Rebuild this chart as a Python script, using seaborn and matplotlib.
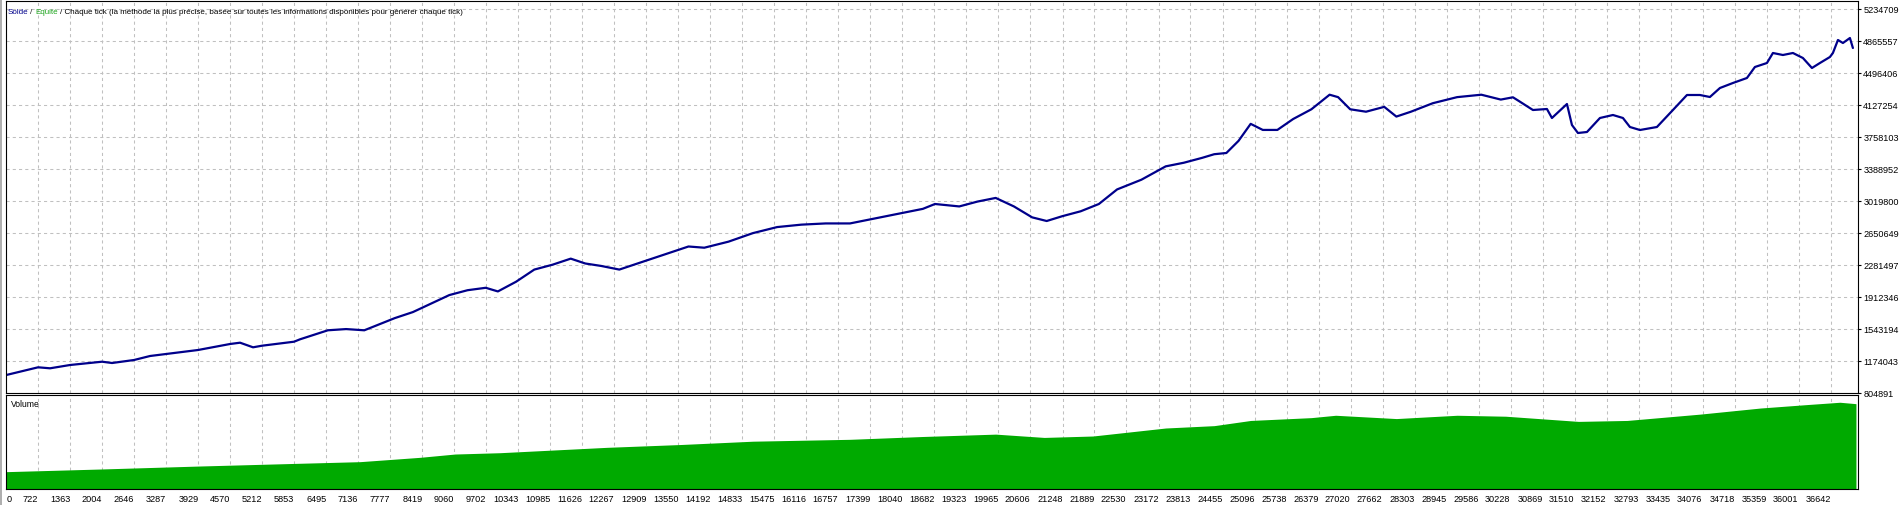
import matplotlib
matplotlib.use("Agg")
import matplotlib.pyplot as plt
import seaborn as sns
import pandas as pd
from matplotlib.lines import Line2D

# balance curve (trade number -> balance)
trades = [80, 717, 957, 1358, 2000, 2199, 2640, 2961, 3282, 3923, 4564, 4765, 5025, 5206,
          5847, 5967, 6525, 6890, 7255, 7499, 7864, 8229, 8594, 8959, 9324, 9689, 9932,
          10297, 10662, 11027, 11392, 11684, 12001, 12366, 12730, 13095, 13460, 13752,
          14069, 14555, 15042, 15529, 16015, 16502, 16989, 17476, 17962, 18449, 18692,
          19179, 19544, 19909, 20274, 20639, 20931, 21247, 21612, 21977, 22342, 22829,
          23316, 23681, 24046, 24289, 24532, 24776, 25019, 25262, 25554, 25871, 26236,
          26601, 26771, 27014, 27331, 27696, 27939, 28231, 28669, 29156, 29642, 30032,
          30276, 30416, 30676, 30957, 31057, 31358, 31458, 31578, 31759, 32019, 32280,
          32480, 32620, 32821, 33161, 33482, 33763, 34023, 34223, 34424, 34684, 34965,
          35125, 35366, 35486, 35686, 35887, 36087, 36268, 36428, 36628, 36688, 36789,
          36889, 37029, 37089]
balance = [1016000, 1104800, 1093300, 1131400, 1169400, 1154400, 1189000, 1235200, 1258300,
           1304400, 1373600, 1388600, 1335500, 1354000, 1400100, 1427800, 1531800, 1545800,
           1531800, 1587900, 1671900, 1741900, 1840000, 1938100, 1994100, 2022100, 1980100,
           2092100, 2232200, 2288300, 2358300, 2302300, 2274200, 2232200, 2302300, 2372300,
           2442300, 2498400, 2484400, 2554400, 2652500, 2722500, 2750500, 2764500, 2764500,
           2820600, 2876600, 2932600, 2988700, 2960600, 3016700, 3058700, 2960600, 2834600,
           2792500, 2848600, 2904600, 2988700, 3156800, 3268800, 3422900, 3464900, 3521000,
           3563000, 3577000, 3717100, 3913200, 3843100, 3843100, 3969200, 4081300, 4249400,
           4221400, 4081300, 4053300, 4109300, 3997200, 4053300, 4151300, 4221400, 4249400,
           4193300, 4219500, 4168800, 4073000, 4084600, 3980800, 4142300, 3900000, 3807700,
           3819200, 3980800, 4015400, 3980800, 3876900, 3842300, 3876900, 4073000, 4246100,
           4246100, 4223000, 4326800, 4384500, 4442200, 4569100, 4615200, 4730600, 4707500,
           4730600, 4672900, 4557600, 4615200, 4684400, 4730600, 4880600, 4846000, 4903600,
           4788300]

# volume panel (lots)
vol_trades = [80, 1959, 3963, 5967, 7169, 8372, 9073, 9975, 12120, 13600, 15042, 16989,
              18449, 19909, 20882, 21856, 23316, 24289, 25019, 26236, 26722, 27939, 29156,
              30129, 31589, 32563, 34023, 35239, 36212, 36829, 37150]
volume = [1.87, 2.15, 2.47, 2.76, 2.93, 3.39, 3.74, 3.88, 4.45, 4.75, 5.1, 5.3, 5.6, 5.85,
          5.5, 5.65, 6.5, 6.75, 7.3, 7.6, 7.85, 7.5, 7.85, 7.75, 7.2, 7.3, 7.97, 8.62, 9.0,
          9.23, 9.08]

x_ticks = [722, 1363, 2004, 2646, 3287, 3929, 4570, 5212, 5853, 6495, 7136, 7777, 8419,
           9060, 9702, 10343, 10985, 11626, 12267, 12909, 13550, 14192, 14833, 15475, 16116,
           16757, 17399, 18040, 18682, 19323, 19965, 20606, 21248, 21889, 22530, 23172,
           23813, 24455, 25096, 25738, 26379, 27020, 27662, 28303, 28945, 29586, 30228,
           30869, 31510, 32152, 32793, 33435, 34076, 34718, 35359, 36001, 36642]
y_ticks = [804891, 1174043, 1543194, 1912346, 2281497, 2650649, 3019800, 3388952, 3758103,
           4127254, 4496406, 4865557, 5234709]

title_parts = [("Solde", "#00008b"), ("/", "#202020"), ("Equité", "#1ea51e"),
               ("/ Chaque tick (la méthode la plus précise, basée sur toutes les informations "
                "disponibles pour générer chaque tick)", "#000000")]

sns.set_style("white")
plt.rcParams["font.family"] = ["Liberation Sans", "DejaVu Sans"]

W, H = 1904, 505
fig = plt.figure(figsize=(W / 100, H / 100), dpi=100)
left, right = 6.3, 1857.7
ax = fig.add_axes([left / W, 1 - 393.3 / H, (right - left) / W, (393.3 - 1) / H])
axv = fig.add_axes([left / W, 1 - 489.3 / H, (right - left) / W, (489.3 - 395) / H])

grid_kw = dict(color="#c0c0c0", linestyle=(0, (3, 3)), linewidth=0.75)
xmin, xmax = 80, 37185

# --- main panel ---
df = pd.DataFrame({"trade": trades, "balance": balance})
sns.lineplot(data=df, x="trade", y="balance", ax=ax, color="#00008b", linewidth=1.6)
ax.set_xlim(xmin, xmax)
ax.set_ylim(y_ticks[0], y_ticks[-1] + 8.3 / 32 * (y_ticks[1] - y_ticks[0]))
ax.set_xticks([xmin] + x_ticks)
ax.set_yticks(y_ticks)
ax.set_yticklabels([str(v) for v in y_ticks])
ax.yaxis.tick_right()
ax.tick_params(axis="x", length=0, labelbottom=False)
ax.tick_params(axis="y", direction="out", length=2.5, width=0.8, pad=1.5, labelsize=6.6,
               color="black", labelcolor="black")
ax.grid(True, **grid_kw)
ax.set_xlabel("")
ax.set_ylabel("")
for s in ax.spines.values():
    s.set_color("black")
    s.set_linewidth(0.8)

# --- volume panel ---
axv.fill_between(vol_trades, volume, color="#00aa00", linewidth=0)
axv.set_xlim(xmin, xmax)
axv.set_ylim(0, 10)
axv.set_yticks([])
axv.set_xticks([xmin] + x_ticks)
axv.set_xticklabels(["0"] + [str(v) for v in x_ticks])
axv.tick_params(axis="x", direction="out", length=2.5, width=0.8, pad=1.5, labelsize=6.6,
                color="black", labelcolor="black")
for i, lab in enumerate(axv.get_xticklabels()):
    lab.set_ha("left" if i == 0 else "right")
axv.grid(True, axis="x", **grid_kw)
for s in axv.spines.values():
    s.set_color("black")
    s.set_linewidth(0.8)
axv.text(0.0025, 0.876, "Volume", transform=axv.transAxes, fontsize=6.2,
         va="baseline", ha="left", color="black")

# window frame on the far left
fig.add_artist(Line2D([1 / W, 1 / W], [0, 1], color="#a0a0a0", linewidth=1.2))

# multi-colour header
fig.canvas.draw()
renderer = fig.canvas.get_renderer()
x = 7.3
for txt, col in title_parts:
    t = fig.text(x / W, 1 - 13.5 / H, txt, color=col, fontsize=5.75, va="baseline", ha="left")
    x += t.get_window_extent(renderer).width + 2.4

fig.savefig("out.png", dpi=100)
